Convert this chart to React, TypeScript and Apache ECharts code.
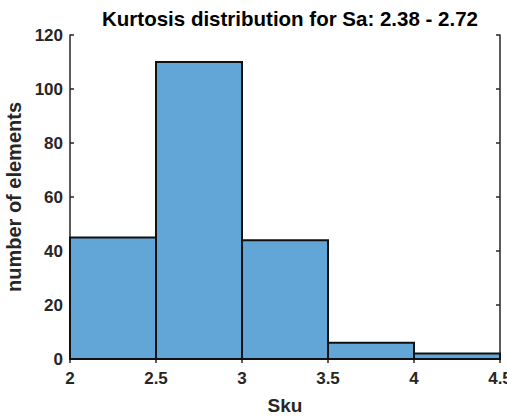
import React, { useEffect, useRef } from "react";
import * as echarts from "echarts";

const binStarts = [2, 2.5, 3, 3.5, 4];
const binWidth = 0.5;
const counts = [45, 110, 44, 6, 2];
const xTicks = [2, 2.5, 3, 3.5, 4, 4.5];
const titleText = "Kurtosis distribution for Sa: 2.38 - 2.72";
const xName = "Sku";
const yName = "number of elements";

const FONT = "Liberation Sans, Arial, Helvetica, sans-serif";
const AX = "#262626";

export default function App() {
  const ref = useRef<HTMLDivElement>(null);
  useEffect(() => {
    const chart = echarts.init(ref.current!, undefined, { renderer: "svg" });
    const data = binStarts.map((s, i) => [s, s + binWidth, counts[i]]);
    const xAxisBase = {
      type: "value",
      min: 2,
      max: 4.5,
      interval: 0.5,
      axisLine: { show: true, lineStyle: { color: AX, width: 1.5 } },
      axisTick: { show: true, inside: true, length: 4, lineStyle: { color: AX, width: 1.5 } },
      splitLine: { show: false },
    };
    const yAxisBase = {
      type: "value",
      min: 0,
      max: 120,
      interval: 20,
      axisLine: { show: true, lineStyle: { color: AX, width: 1.5 } },
      axisTick: { show: true, inside: true, length: 4, lineStyle: { color: AX, width: 1.5 } },
      splitLine: { show: false },
    };
    chart.setOption({
      animation: false,
      backgroundColor: "#ffffff",
      title: {
        text: titleText,
        left: 285,
        textAlign: "center",
        top: 3,
        textStyle: { fontFamily: FONT, fontSize: 20.5, fontWeight: "bold", color: "#000" },
      },
      grid: { left: 70, right: 7, top: 35, bottom: 60, outerBoundsMode: "none", containLabel: false },
      xAxis: [
        {
          ...xAxisBase,
          position: "bottom",
          name: xName,
          nameLocation: "middle",
          nameGap: 37,
          nameTextStyle: { fontFamily: FONT, fontSize: 19, fontWeight: "bold", color: "#262626" },
          axisLabel: {
            show: true,
            margin: 11,
            fontFamily: FONT,
            fontSize: 17,
            fontWeight: "bold",
            color: "#262626",
            formatter: (v: number) => (xTicks.includes(v) ? String(v) : ""),
          },
        },
        { ...xAxisBase, position: "top", axisLabel: { show: false } },
      ],
      yAxis: [
        {
          ...yAxisBase,
          position: "left",
          name: yName,
          nameLocation: "middle",
          nameGap: 35,
          nameTextStyle: { fontFamily: FONT, fontSize: 20, fontWeight: "bold", color: "#262626" },
          axisLabel: {
            show: true,
            margin: 7,
            fontFamily: FONT,
            fontSize: 17,
            fontWeight: "bold",
            color: "#262626",
          },
        },
        { ...yAxisBase, position: "right", axisLabel: { show: false } },
      ],
      series: [
        {
          type: "custom",
          xAxisIndex: 0,
          yAxisIndex: 0,
          data,
          encode: { x: [0, 1], y: 2 },
          renderItem: (params: any, api: any) => {
            const p0 = api.coord([api.value(0), api.value(2)]);
            const p1 = api.coord([api.value(1), 0]);
            return {
              type: "rect",
              shape: { x: p0[0], y: p0[1], width: p1[0] - p0[0], height: p1[1] - p0[1] },
              style: { fill: "#62A6D8", stroke: "#111111", lineWidth: 2 },
            };
          },
        },
      ],
    });
    return () => chart.dispose();
  }, []);
  return <div ref={ref} style={{ width: 507, height: 419, position: "absolute", left: 0, top: 0 }} />;
}
